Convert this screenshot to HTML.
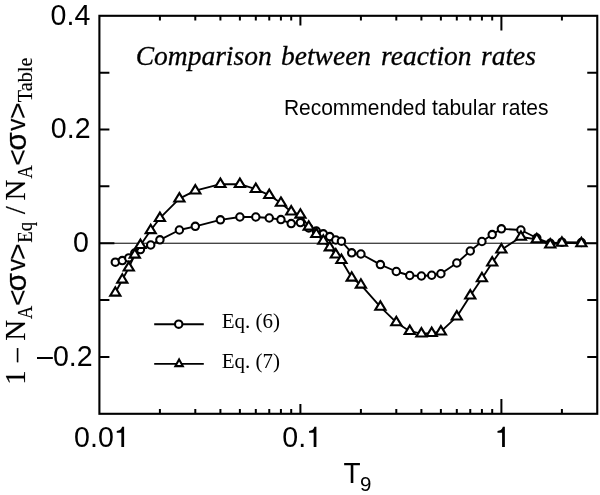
<!DOCTYPE html><html><head><meta charset="utf-8"><style>html,body{margin:0;padding:0;background:#fff}svg{display:block;will-change:transform;filter:grayscale(1)}text{fill:#000}.s{font-family:"Liberation Sans",sans-serif}.r{font-family:"Liberation Serif",serif}</style></head><body>
<svg width="600" height="495" viewBox="0 0 600 495">
<rect width="600" height="495" fill="#fff"/>
<line x1="99.4" y1="243.23" x2="597.25" y2="243.23" stroke="#000" stroke-width="1"/>
<path d="M159.91 413.8v-4.8M159.91 15.8v4.8M195.30 413.8v-4.8M195.30 15.8v4.8M220.41 413.8v-4.8M220.41 15.8v4.8M239.89 413.8v-4.8M239.89 15.8v4.8M255.81 413.8v-4.8M255.81 15.8v4.8M269.26 413.8v-4.8M269.26 15.8v4.8M280.92 413.8v-4.8M280.92 15.8v4.8M291.20 413.8v-4.8M291.20 15.8v4.8M300.40 413.8v-9.8M300.40 15.8v9.8M360.91 413.8v-4.8M360.91 15.8v4.8M396.30 413.8v-4.8M396.30 15.8v4.8M421.41 413.8v-4.8M421.41 15.8v4.8M440.89 413.8v-4.8M440.89 15.8v4.8M456.81 413.8v-4.8M456.81 15.8v4.8M470.26 413.8v-4.8M470.26 15.8v4.8M481.92 413.8v-4.8M481.92 15.8v4.8M492.20 413.8v-4.8M492.20 15.8v4.8M501.40 413.8v-14.8M501.40 15.8v14.8M561.91 413.8v-4.8M561.91 15.8v4.8M99.4 72.66h10M597.25 72.66h-10M99.4 129.51h10M597.25 129.51h-10M99.4 186.37h10M597.25 186.37h-10M99.4 243.23h15M597.25 243.23h-15M99.4 300.09h10M597.25 300.09h-10M99.4 356.94h10M597.25 356.94h-10" stroke="#000" stroke-width="2.0" fill="none"/>
<polyline points="115.32,262.20 122.30,260.60 128.77,257.90 134.79,253.00 140.43,249.60 150.71,245.00 159.91,239.80 179.39,230.00 195.30,226.30 220.41,219.80 239.89,217.00 255.81,217.00 269.26,218.00 280.92,219.60 291.20,223.60 300.40,222.60 308.72,228.00 316.32,231.10 323.30,233.80 329.77,236.60 335.79,240.00 341.43,241.20 351.71,252.80 360.91,254.00 380.39,264.60 396.30,271.50 409.76,275.50 421.41,276.00 431.70,275.25 440.89,273.75 456.81,263.00 470.26,251.00 481.92,241.50 492.20,234.60 501.40,228.80 520.88,230.00 536.79,238.00 550.25,243.30 561.91,242.20 581.39,242.50" fill="none" stroke="#000" stroke-width="1.85" stroke-linejoin="round"/>
<circle cx="115.32" cy="262.20" r="3.7" fill="#fff" stroke="#000" stroke-width="2.1"/>
<circle cx="122.30" cy="260.60" r="3.7" fill="#fff" stroke="#000" stroke-width="2.1"/>
<circle cx="128.77" cy="257.90" r="3.7" fill="#fff" stroke="#000" stroke-width="2.1"/>
<circle cx="134.79" cy="253.00" r="3.7" fill="#fff" stroke="#000" stroke-width="2.1"/>
<circle cx="140.43" cy="249.60" r="3.7" fill="#fff" stroke="#000" stroke-width="2.1"/>
<circle cx="150.71" cy="245.00" r="3.7" fill="#fff" stroke="#000" stroke-width="2.1"/>
<circle cx="159.91" cy="239.80" r="3.7" fill="#fff" stroke="#000" stroke-width="2.1"/>
<circle cx="179.39" cy="230.00" r="3.7" fill="#fff" stroke="#000" stroke-width="2.1"/>
<circle cx="195.30" cy="226.30" r="3.7" fill="#fff" stroke="#000" stroke-width="2.1"/>
<circle cx="220.41" cy="219.80" r="3.7" fill="#fff" stroke="#000" stroke-width="2.1"/>
<circle cx="239.89" cy="217.00" r="3.7" fill="#fff" stroke="#000" stroke-width="2.1"/>
<circle cx="255.81" cy="217.00" r="3.7" fill="#fff" stroke="#000" stroke-width="2.1"/>
<circle cx="269.26" cy="218.00" r="3.7" fill="#fff" stroke="#000" stroke-width="2.1"/>
<circle cx="280.92" cy="219.60" r="3.7" fill="#fff" stroke="#000" stroke-width="2.1"/>
<circle cx="291.20" cy="223.60" r="3.7" fill="#fff" stroke="#000" stroke-width="2.1"/>
<circle cx="300.40" cy="222.60" r="3.7" fill="#fff" stroke="#000" stroke-width="2.1"/>
<circle cx="308.72" cy="228.00" r="3.7" fill="#fff" stroke="#000" stroke-width="2.1"/>
<circle cx="316.32" cy="231.10" r="3.7" fill="#fff" stroke="#000" stroke-width="2.1"/>
<circle cx="323.30" cy="233.80" r="3.7" fill="#fff" stroke="#000" stroke-width="2.1"/>
<circle cx="329.77" cy="236.60" r="3.7" fill="#fff" stroke="#000" stroke-width="2.1"/>
<circle cx="335.79" cy="240.00" r="3.7" fill="#fff" stroke="#000" stroke-width="2.1"/>
<circle cx="341.43" cy="241.20" r="3.7" fill="#fff" stroke="#000" stroke-width="2.1"/>
<circle cx="351.71" cy="252.80" r="3.7" fill="#fff" stroke="#000" stroke-width="2.1"/>
<circle cx="360.91" cy="254.00" r="3.7" fill="#fff" stroke="#000" stroke-width="2.1"/>
<circle cx="380.39" cy="264.60" r="3.7" fill="#fff" stroke="#000" stroke-width="2.1"/>
<circle cx="396.30" cy="271.50" r="3.7" fill="#fff" stroke="#000" stroke-width="2.1"/>
<circle cx="409.76" cy="275.50" r="3.7" fill="#fff" stroke="#000" stroke-width="2.1"/>
<circle cx="421.41" cy="276.00" r="3.7" fill="#fff" stroke="#000" stroke-width="2.1"/>
<circle cx="431.70" cy="275.25" r="3.7" fill="#fff" stroke="#000" stroke-width="2.1"/>
<circle cx="440.89" cy="273.75" r="3.7" fill="#fff" stroke="#000" stroke-width="2.1"/>
<circle cx="456.81" cy="263.00" r="3.7" fill="#fff" stroke="#000" stroke-width="2.1"/>
<circle cx="470.26" cy="251.00" r="3.7" fill="#fff" stroke="#000" stroke-width="2.1"/>
<circle cx="481.92" cy="241.50" r="3.7" fill="#fff" stroke="#000" stroke-width="2.1"/>
<circle cx="492.20" cy="234.60" r="3.7" fill="#fff" stroke="#000" stroke-width="2.1"/>
<circle cx="501.40" cy="228.80" r="3.7" fill="#fff" stroke="#000" stroke-width="2.1"/>
<circle cx="520.88" cy="230.00" r="3.7" fill="#fff" stroke="#000" stroke-width="2.1"/>
<circle cx="536.79" cy="238.00" r="3.7" fill="#fff" stroke="#000" stroke-width="2.1"/>
<circle cx="550.25" cy="243.30" r="3.7" fill="#fff" stroke="#000" stroke-width="2.1"/>
<circle cx="561.91" cy="242.20" r="3.7" fill="#fff" stroke="#000" stroke-width="2.1"/>
<circle cx="581.39" cy="242.50" r="3.7" fill="#fff" stroke="#000" stroke-width="2.1"/>
<polyline points="115.32,292.80 122.30,279.80 128.77,267.70 134.79,254.80 140.43,245.20 150.71,230.30 159.91,218.20 179.39,198.70 195.30,190.70 220.41,184.20 239.89,184.20 255.81,189.20 269.26,195.20 280.92,203.00 291.20,211.70 300.40,214.80 308.72,226.80 316.32,234.20 323.30,240.90 329.77,247.60 335.79,254.70 341.43,260.20 351.71,277.80 360.91,284.80 380.39,306.95 396.30,322.45 409.76,331.20 421.41,333.70 431.70,333.20 440.89,331.70 456.81,316.70 470.26,295.70 481.92,278.40 492.20,262.70 501.40,249.70 520.88,237.00 536.79,239.40 550.25,244.70 561.91,242.90 581.39,243.40" fill="none" stroke="#000" stroke-width="1.85" stroke-linejoin="round"/>
<path d="M115.32 287.20L120.42 295.60H110.22Z" fill="#fff" stroke="#000" stroke-width="2.1" stroke-linejoin="miter"/>
<path d="M122.30 274.20L127.40 282.60H117.20Z" fill="#fff" stroke="#000" stroke-width="2.1" stroke-linejoin="miter"/>
<path d="M128.77 262.10L133.87 270.50H123.67Z" fill="#fff" stroke="#000" stroke-width="2.1" stroke-linejoin="miter"/>
<path d="M134.79 249.20L139.89 257.60H129.69Z" fill="#fff" stroke="#000" stroke-width="2.1" stroke-linejoin="miter"/>
<path d="M140.43 239.60L145.53 248.00H135.33Z" fill="#fff" stroke="#000" stroke-width="2.1" stroke-linejoin="miter"/>
<path d="M150.71 224.70L155.81 233.10H145.61Z" fill="#fff" stroke="#000" stroke-width="2.1" stroke-linejoin="miter"/>
<path d="M159.91 212.60L165.01 221.00H154.81Z" fill="#fff" stroke="#000" stroke-width="2.1" stroke-linejoin="miter"/>
<path d="M179.39 193.10L184.49 201.50H174.29Z" fill="#fff" stroke="#000" stroke-width="2.1" stroke-linejoin="miter"/>
<path d="M195.30 185.10L200.40 193.50H190.20Z" fill="#fff" stroke="#000" stroke-width="2.1" stroke-linejoin="miter"/>
<path d="M220.41 178.60L225.51 187.00H215.31Z" fill="#fff" stroke="#000" stroke-width="2.1" stroke-linejoin="miter"/>
<path d="M239.89 178.60L244.99 187.00H234.79Z" fill="#fff" stroke="#000" stroke-width="2.1" stroke-linejoin="miter"/>
<path d="M255.81 183.60L260.91 192.00H250.71Z" fill="#fff" stroke="#000" stroke-width="2.1" stroke-linejoin="miter"/>
<path d="M269.26 189.60L274.36 198.00H264.16Z" fill="#fff" stroke="#000" stroke-width="2.1" stroke-linejoin="miter"/>
<path d="M280.92 197.40L286.02 205.80H275.82Z" fill="#fff" stroke="#000" stroke-width="2.1" stroke-linejoin="miter"/>
<path d="M291.20 206.10L296.30 214.50H286.10Z" fill="#fff" stroke="#000" stroke-width="2.1" stroke-linejoin="miter"/>
<path d="M300.40 209.20L305.50 217.60H295.30Z" fill="#fff" stroke="#000" stroke-width="2.1" stroke-linejoin="miter"/>
<path d="M308.72 221.20L313.82 229.60H303.62Z" fill="#fff" stroke="#000" stroke-width="2.1" stroke-linejoin="miter"/>
<path d="M316.32 228.60L321.42 237.00H311.22Z" fill="#fff" stroke="#000" stroke-width="2.1" stroke-linejoin="miter"/>
<path d="M323.30 235.30L328.40 243.70H318.20Z" fill="#fff" stroke="#000" stroke-width="2.1" stroke-linejoin="miter"/>
<path d="M329.77 242.00L334.87 250.40H324.67Z" fill="#fff" stroke="#000" stroke-width="2.1" stroke-linejoin="miter"/>
<path d="M335.79 249.10L340.89 257.50H330.69Z" fill="#fff" stroke="#000" stroke-width="2.1" stroke-linejoin="miter"/>
<path d="M341.43 254.60L346.53 263.00H336.33Z" fill="#fff" stroke="#000" stroke-width="2.1" stroke-linejoin="miter"/>
<path d="M351.71 272.20L356.81 280.60H346.61Z" fill="#fff" stroke="#000" stroke-width="2.1" stroke-linejoin="miter"/>
<path d="M360.91 279.20L366.01 287.60H355.81Z" fill="#fff" stroke="#000" stroke-width="2.1" stroke-linejoin="miter"/>
<path d="M380.39 301.35L385.49 309.75H375.29Z" fill="#fff" stroke="#000" stroke-width="2.1" stroke-linejoin="miter"/>
<path d="M396.30 316.85L401.40 325.25H391.20Z" fill="#fff" stroke="#000" stroke-width="2.1" stroke-linejoin="miter"/>
<path d="M409.76 325.60L414.86 334.00H404.66Z" fill="#fff" stroke="#000" stroke-width="2.1" stroke-linejoin="miter"/>
<path d="M421.41 328.10L426.51 336.50H416.31Z" fill="#fff" stroke="#000" stroke-width="2.1" stroke-linejoin="miter"/>
<path d="M431.70 327.60L436.80 336.00H426.60Z" fill="#fff" stroke="#000" stroke-width="2.1" stroke-linejoin="miter"/>
<path d="M440.89 326.10L445.99 334.50H435.79Z" fill="#fff" stroke="#000" stroke-width="2.1" stroke-linejoin="miter"/>
<path d="M456.81 311.10L461.91 319.50H451.71Z" fill="#fff" stroke="#000" stroke-width="2.1" stroke-linejoin="miter"/>
<path d="M470.26 290.10L475.36 298.50H465.16Z" fill="#fff" stroke="#000" stroke-width="2.1" stroke-linejoin="miter"/>
<path d="M481.92 272.80L487.02 281.20H476.82Z" fill="#fff" stroke="#000" stroke-width="2.1" stroke-linejoin="miter"/>
<path d="M492.20 257.10L497.30 265.50H487.10Z" fill="#fff" stroke="#000" stroke-width="2.1" stroke-linejoin="miter"/>
<path d="M501.40 244.10L506.50 252.50H496.30Z" fill="#fff" stroke="#000" stroke-width="2.1" stroke-linejoin="miter"/>
<path d="M520.88 231.40L525.98 239.80H515.78Z" fill="#fff" stroke="#000" stroke-width="2.1" stroke-linejoin="miter"/>
<path d="M536.79 233.80L541.89 242.20H531.69Z" fill="#fff" stroke="#000" stroke-width="2.1" stroke-linejoin="miter"/>
<path d="M550.25 239.10L555.35 247.50H545.15Z" fill="#fff" stroke="#000" stroke-width="2.1" stroke-linejoin="miter"/>
<path d="M561.91 237.30L567.01 245.70H556.81Z" fill="#fff" stroke="#000" stroke-width="2.1" stroke-linejoin="miter"/>
<path d="M581.39 237.80L586.49 246.20H576.29Z" fill="#fff" stroke="#000" stroke-width="2.1" stroke-linejoin="miter"/>
<rect x="99.4" y="15.8" width="497.85" height="398.0" fill="none" stroke="#000" stroke-width="2.1"/>
<path d="M154.2 324.2H203.8M154.2 363.8H203.8" stroke="#000" stroke-width="1.85"/>
<circle cx="178.7" cy="324.2" r="3.7" fill="#fff" stroke="#000" stroke-width="2.1"/>
<path d="M179.1 359.4L182.8 366.1H175.4Z" fill="#fff" stroke="#000" stroke-width="2.1"/>
<text class="r" x="221.8" y="328" font-size="21">Eq. (6)</text>
<text class="r" x="221.8" y="368" font-size="21">Eq. (7)</text>
<text class="r" y="65.2" font-size="27.5" font-style="italic" stroke="#000" stroke-width="0.3"><tspan x="135.7">Comparison</tspan><tspan x="281">between</tspan><tspan x="381">reaction</tspan><tspan x="481">rates</tspan></text>
<text class="s" transform="translate(283.9,115.2) scale(1,1.035)" font-size="21" textLength="264.6" lengthAdjust="spacing">Recommended tabular rates</text>
<text class="s" transform="translate(90.30,24.70) scale(1,1.025)" font-size="28.6" text-anchor="end">0.4</text>
<text class="s" transform="translate(90.60,138.41) scale(1,1.025)" font-size="28.6" text-anchor="end">0.2</text>
<text class="s" transform="translate(88.90,252.13) scale(1,1.025)" font-size="28.6" text-anchor="end">0</text>
<text class="s" transform="translate(92.70,365.84) scale(1,1.025)" font-size="28.6" text-anchor="end">–0.2</text>
<text class="s" transform="translate(74.10,446.90) scale(1,1.025)" font-size="28.6" text-anchor="start">0.0</text>
<path d="M124.12 446.90L121.35 446.90L121.35 432.63L116.74 432.63L116.74 430.88C119.29 430.71 121.09 430.00 122.15 426.79L124.12 426.79Z" fill="#000"/>
<text class="s" transform="translate(282.30,446.90) scale(1,1.025)" font-size="28.6" text-anchor="start">0.</text>
<path d="M316.42 446.90L313.65 446.90L313.65 432.63L309.04 432.63L309.04 430.88C311.59 430.71 313.39 430.00 314.45 426.79L316.42 426.79Z" fill="#000"/>
<path d="M504.87 446.90L502.09 446.90L502.09 432.63L497.49 432.63L497.49 430.88C500.03 430.71 501.84 430.00 502.89 426.79L504.87 426.79Z" fill="#000"/>
<text class="s" transform="translate(343.40,483.45) scale(1,1.045)" font-size="28" text-anchor="start">T</text>
<text class="s" transform="translate(360.10,490.50) scale(1,1.0)" font-size="20.5" text-anchor="start">9</text>
<g transform="translate(24.8,0) rotate(-90)"><text class="r" font-size="29" x="-384.80" y="0"  stroke="#000" stroke-width="0.15">1</text><text class="r" font-size="27.5" x="-361.90" y="-0.6"  stroke="#000" stroke-width="0.15">–</text><text class="r" font-size="29" x="-214.30" y="0"  stroke="#000" stroke-width="0.15">/</text><text class="r" font-size="29" x="-340.70" y="0"  stroke="#000" stroke-width="0.15">N</text><text class="r" font-size="29" x="-200.56" y="0"  stroke="#000" stroke-width="0.15">N</text><text class="r" font-size="21" x="-318.90" y="7.3" textLength="13.2" lengthAdjust="spacingAndGlyphs" stroke="#000" stroke-width="0.15">A</text><text class="r" font-size="21" x="-178.60" y="7.3" textLength="13.2" lengthAdjust="spacingAndGlyphs" stroke="#000" stroke-width="0.15">A</text><text class="s" font-size="28.5" x="-305.90" y="2.14"  stroke="#000" stroke-width="0.08">&lt;</text><text class="s" font-size="28.5" x="-165.80" y="2.14"  stroke="#000" stroke-width="0.08">&lt;</text><text class="s" font-size="29.5" x="-291.20" y="0.9"  stroke="#000" stroke-width="0.25">σ</text><text class="s" font-size="29.5" x="-150.40" y="0.9"  stroke="#000" stroke-width="0.25">σ</text><text class="s" font-size="26.3" x="-271.00" y="0" textLength="12.1" lengthAdjust="spacingAndGlyphs" stroke="#000" stroke-width="0.25">v</text><text class="s" font-size="26.3" x="-130.80" y="0" textLength="12.1" lengthAdjust="spacingAndGlyphs" stroke="#000" stroke-width="0.25">v</text><text class="s" font-size="28.5" x="-260.00" y="2.14"  stroke="#000" stroke-width="0.08">&gt;</text><text class="s" font-size="28.5" x="-119.10" y="2.14"  stroke="#000" stroke-width="0.08">&gt;</text><text class="r" font-size="20.5" x="-242.70" y="7.3" textLength="20.8" lengthAdjust="spacingAndGlyphs" stroke="#000" stroke-width="0.15">Eq</text><text class="r" font-size="21" x="-102.30" y="7.3" textLength="44.7" lengthAdjust="spacingAndGlyphs" stroke="#000" stroke-width="0.15">Table</text></g>
</svg></body></html>
